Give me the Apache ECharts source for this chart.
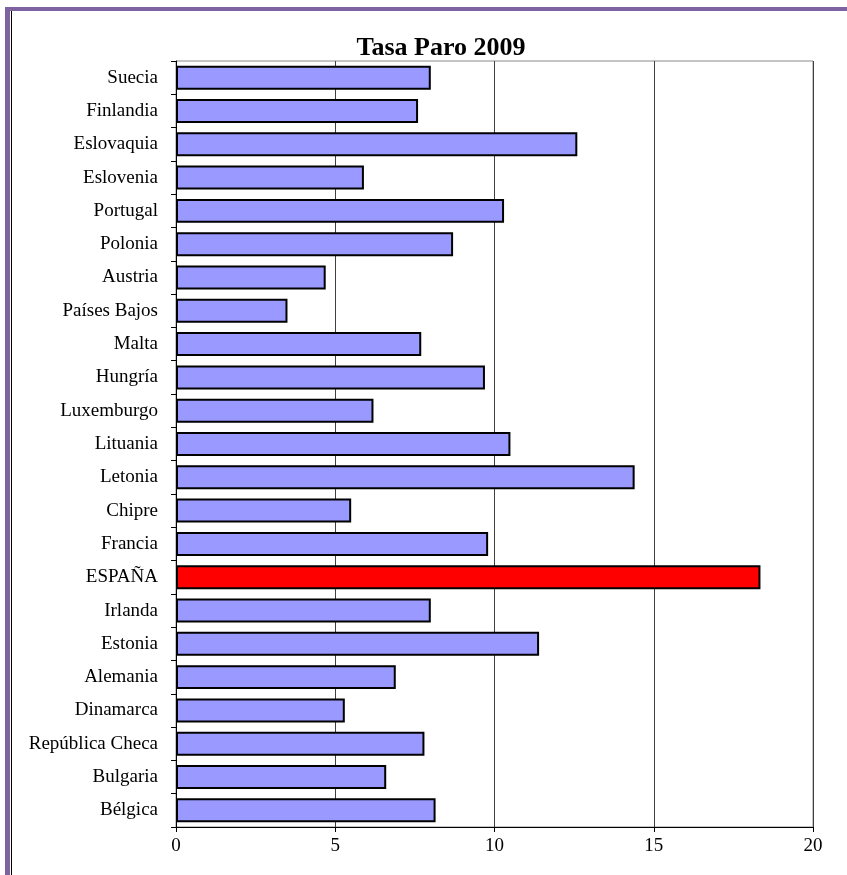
<!DOCTYPE html>
<html>
<head>
<meta charset="utf-8">
<title>Tasa Paro 2009</title>
<script src="https://cdn.jsdelivr.net/npm/echarts@6/dist/echarts.min.js"></script>
<style>
  html, body { margin: 0; padding: 0; background: #fff; }
  #main { width: 847px; height: 875px; }
</style>
</head>
<body>
<div id="main"></div>
<script>
// datos (de arriba a abajo)
var paises = ['Suecia', 'Finlandia', 'Eslovaquia', 'Eslovenia', 'Portugal', 'Polonia',
  'Austria', 'Países Bajos', 'Malta', 'Hungría', 'Luxemburgo', 'Lituania', 'Letonia',
  'Chipre', 'Francia', 'ESPAÑA', 'Irlanda', 'Estonia', 'Alemania', 'Dinamarca',
  'República Checa', 'Bulgaria', 'Bélgica'];
var paro = [8.0, 7.6, 12.6, 5.9, 10.3, 8.7, 4.7, 3.5, 7.7, 9.7, 6.2, 10.5, 14.4,
  5.5, 9.8, 18.35, 8.0, 11.4, 6.9, 5.3, 7.8, 6.6, 8.15];
var destacado = 'ESPAÑA';

var chart = echarts.init(document.getElementById('main'));

var serif = '"Liberation Serif", "Times New Roman", serif';

var option = {
  backgroundColor: '#fff',
  animation: false,
  title: {
    text: 'Tasa Paro 2009',
    left: 436,
    top: 30,
    textAlign: 'center',
    textStyle: { fontFamily: serif, fontWeight: 'bold', fontSize: 26, color: '#000' }
  },
  grid: {
    left: 176, right: 34, top: 61, bottom: 48,
    show: true, borderColor: '#8a8a8a', borderWidth: 1
  },
  xAxis: {
    type: 'value',
    min: 0, max: 20, interval: 5,
    axisLine: { show: true, lineStyle: { color: '#000', width: 1 } },
    axisTick: { show: true, inside: false, length: 5, lineStyle: { color: '#000' } },
    axisLabel: { color: '#000', fontFamily: serif, fontSize: 19, margin: 10 },
    splitLine: { show: true, lineStyle: { color: '#404040', width: 1 } }
  },
  yAxis: {
    type: 'category',
    inverse: true,
    data: paises,
    axisLine: { show: true, lineStyle: { color: '#000', width: 1 } },
    axisTick: { show: true, inside: false, length: 5, lineStyle: { color: '#000' } },
    axisLabel: { color: '#000', fontFamily: serif, fontSize: 19, margin: 18 }
  },
  series: [{
    type: 'bar',
    barCategoryGap: '28%',
    data: paro.map(function (v, i) {
      return {
        value: v,
        itemStyle: { color: paises[i] === destacado ? '#ff0000' : '#9999ff' }
      };
    }),
    itemStyle: { borderColor: '#000', borderWidth: 2 }
  }],
  graphic: [
    // marco morado
    { type: 'rect', shape: { x: 5, y: 7, width: 5, height: 868 }, style: { fill: '#7f63a1' }, silent: true },
    { type: 'rect', shape: { x: 5, y: 7, width: 842, height: 4 }, style: { fill: '#7f63a1' }, silent: true },
    { type: 'line', shape: { x1: 11.5, y1: 11, x2: 11.5, y2: 875 }, style: { stroke: '#000', lineWidth: 1 }, silent: true }
  ]
};

chart.setOption(option);
</script>
</body>
</html>
